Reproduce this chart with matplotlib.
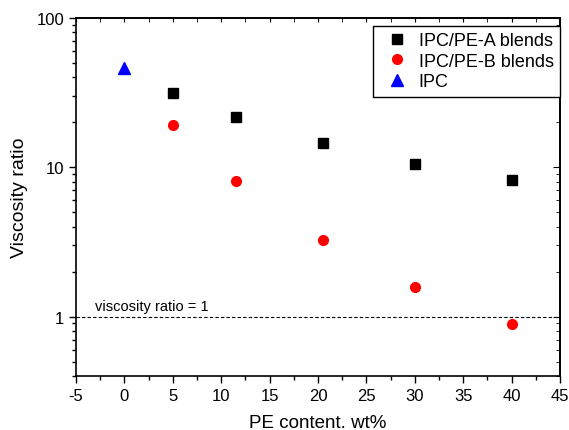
import matplotlib
matplotlib.use("Agg")
import matplotlib.pyplot as plt
from matplotlib.ticker import LogLocator, NullFormatter, MultipleLocator

plt.rcParams['font.family'] = ['Liberation Sans', 'DejaVu Sans']

# PE content (wt%) and viscosity ratios
pe_a = [5, 11.5, 20.5, 30, 40]
ratio_a = [31.5, 21.7, 14.5, 10.6, 8.2]
pe_b = [5, 11.5, 20.5, 30, 40]
ratio_b = [19.3, 8.05, 3.24, 1.59, 0.89]
pe_ipc = [0]
ratio_ipc = [46.5]

x_ticks = [-5, 0, 5, 10, 15, 20, 25, 30, 35, 40, 45]
y_ticks = [1, 10, 100]
y_tick_labels = ["1", "10", "100"]

fig = plt.figure(figsize=(5.69, 4.31), dpi=100)
ax = fig.add_axes([0.1336, 0.1253, 0.8504, 0.8306])

ax.plot(pe_a, ratio_a, 's', color='black', markersize=6.5, label='IPC/PE-A blends', linestyle='none')
ax.plot(pe_b, ratio_b, 'o', color='red', markersize=7, label='IPC/PE-B blends', linestyle='none')
ax.plot(pe_ipc, ratio_ipc, '^', color='blue', markersize=8, label='IPC', linestyle='none')

ax.axhline(1, color='black', linestyle=(0, (3, 2)), linewidth=0.8)
ax.text(-3.0, 1.05, 'viscosity ratio = 1', fontsize=10.5, ha='left', va='bottom')

ax.set_yscale('log')
ax.set_xlim(-5, 45)
ax.set_ylim(0.4, 100)
ax.set_xticks(x_ticks)
ax.set_xticklabels([str(v) for v in x_ticks])
ax.xaxis.set_minor_locator(MultipleLocator(2.5))
ax.set_yticks(y_ticks)
ax.set_yticklabels(y_tick_labels)
ax.yaxis.set_minor_locator(LogLocator(base=10, subs=range(2, 10)))
ax.yaxis.set_minor_formatter(NullFormatter())

ax.tick_params(axis='both', which='major', labelsize=12, direction='out', length=5, width=1)
ax.tick_params(axis='both', which='minor', direction='out', length=3, width=1)
ax.tick_params(top=False, right=False, which='both')

# inward ticks on the top and right frame edges
ax2 = ax.secondary_xaxis('top')
ax2.set_xticks(x_ticks)
ax2.xaxis.set_minor_locator(MultipleLocator(2.5))
ax2.tick_params(which='both', direction='in', length=3, labeltop=False)

ay2 = ax.secondary_yaxis('right')
ay2.set_yticks(y_ticks)
ay2.yaxis.set_minor_locator(LogLocator(base=10, subs=range(2, 10)))
ay2.yaxis.set_minor_formatter(NullFormatter())
ay2.tick_params(which='major', direction='in', length=5, labelright=False)
ay2.tick_params(which='minor', direction='in', length=3, labelright=False)

for s in list(ax.spines.values()) + list(ax2.spines.values()) + list(ay2.spines.values()):
    s.set_linewidth(1.2)

ax.set_xlabel('PE content. wt%', fontsize=13.5, labelpad=8)
ax.set_ylabel('Viscosity ratio', fontsize=14, labelpad=6)

leg = ax.legend(loc='upper right', bbox_to_anchor=(1.0, 0.978), borderaxespad=0,
                fontsize=13, frameon=True, fancybox=False, edgecolor='black',
                framealpha=1, handletextpad=0.2, borderpad=0.35, labelspacing=0.2,
                handlelength=2.0)
leg.get_frame().set_linewidth(1.0)

fig.savefig('out.png', dpi=100)
